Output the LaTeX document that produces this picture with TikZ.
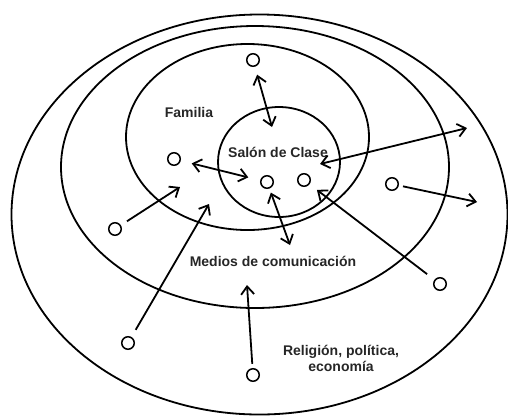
\documentclass[tikz,border=0pt]{standalone}
\usepackage{fontspec}
\setmainfont{Liberation Sans}
\usetikzlibrary{arrows.meta}

\begin{document}
\begin{tikzpicture}[x=1pt,y=-1pt,line width=1.8pt,
  >={Straight Barb[length=8pt,width=13pt]},
  dot/.style={draw,circle,line width=1.5pt,minimum size=12.5pt,inner sep=0pt,outer sep=5pt},
  lbl/.style={font=\bfseries\fontsize{14}{16}\selectfont,text=black!85,align=center}]
\useasboundingbox (0,0) rectangle (508,416);
% Rings
\draw (259.5,214.5) ellipse [x radius=248,y radius=200];
\draw (255,167) ellipse [x radius=194,y radius=141];
\draw (247.5,137) ellipse [x radius=121.5,y radius=93];
\draw (279,162) ellipse [x radius=61,y radius=55];
% Labels
\node[lbl] (familia) at (189,112) {Familia};
\node[lbl] (salon) at (278,152) {Salón de Clase};
\node[lbl] (medios) at (273,261) {Medios de comunicación};
\node[lbl] (religion) at (341,358) {Religión, política,\\economía};
% Small circles
\node[dot] (top) at (253,60) {};
\node[dot] (left) at (174,159) {};
\node[dot] (mid) at (267,182) {};
\node[dot] (midr) at (304,180) {};
\node[dot] (right) at (392,184) {};
\node[dot] (lowl) at (115,229) {};
\node[dot] (botl) at (128,343) {};
\node[dot] (bot) at (253,375) {};
\node[dot] (botr) at (440,284) {};
% Free ends
\coordinate (topend) at (272,127);
\coordinate (longa) at (320,164);
\coordinate (longb) at (467,128);
\coordinate (midend) at (290,245);
\coordinate (rightend) at (477,202);
\coordinate (lowlend) at (180,187);
\coordinate (botlend) at (209,204);
\coordinate (botend) at (247,285);
% Arrows
\draw[<->,shorten <=4pt] (top) -- (topend);
\draw[<->,shorten <=7pt,shorten >=8pt] (left) -- (mid);
\draw[<->] (longa) -- (longb);
\draw[<->] (mid) -- (midend);
\draw[->] (right) -- (rightend);
\draw[->,shorten <=3pt] (lowl) -- (lowlend);
\draw[->,shorten <=4pt] (botl) -- (botlend);
\draw[->] (bot) -- (botend);
\draw[->,shorten <=5pt,shorten >=5pt] (botr) -- (midr);
\end{tikzpicture}
\end{document}
